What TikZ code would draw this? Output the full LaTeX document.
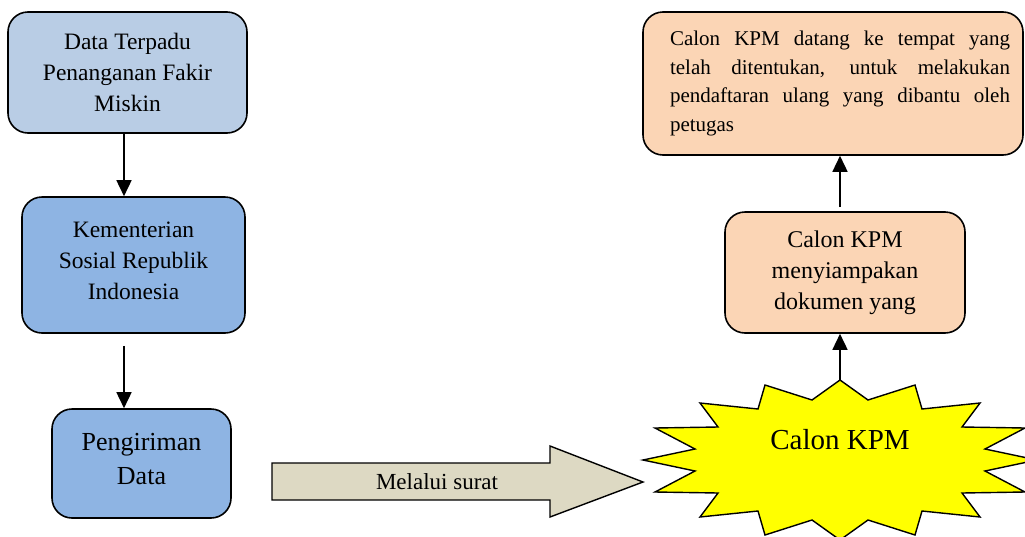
\documentclass[tikz,border=0pt]{standalone}
\usepackage{fontspec}
\setmainfont{Liberation Serif}
\usetikzlibrary{arrows.meta}
\definecolor{bluelight}{HTML}{B9CDE5}
\definecolor{bluemid}{HTML}{8EB4E3}
\definecolor{peach}{HTML}{FBD5B5}
\definecolor{khaki}{HTML}{DDD9C3}
\definecolor{staryellow}{HTML}{FFFF00}
\begin{document}
\begin{tikzpicture}[x=1pt,y=-1pt,
 box/.style={draw=black,line width=1.6pt,rounded corners=20pt,align=center,inner sep=0pt},
 arr/.style={line width=1.6pt,-{Triangle[length=16pt,width=15pt]}},
 shapeline/.style={draw=black,line width=1.4pt,line join=miter},
 ]
\useasboundingbox (0,0) rectangle (1025,536);
% left column
\node[box,fill=bluelight,minimum width=239pt,minimum height=121pt,font=\fontsize{23.5}{31}\selectfont] (dt) at (127.5,72.5) {Data Terpadu\\Penanganan Fakir\\Miskin};
\node[box,fill=bluemid,minimum width=223pt,minimum height=136pt,
  label={[align=center,font=\fontsize{23.5}{31}\selectfont,yshift=4pt]center:Kementerian\\Sosial Republik\\Indonesia}] (ks) at (133.5,265) {};
\node[box,fill=bluemid,minimum width=179pt,minimum height=109pt,
  label={[align=center,font=\fontsize{26}{34}\selectfont,yshift=4pt]center:Pengiriman\\Data}] (pd) at (141.5,463.5) {};
% right column
\node[box,fill=peach,minimum width=380pt,minimum height=143pt,font=\fontsize{21}{28.5}\selectfont] (cd) at (833,83.5) {\hspace*{14pt}\parbox[c]{340pt}{Calon KPM datang ke tempat yang\linebreak telah ditentukan, untuk melakukan\linebreak pendaftaran ulang yang dibantu oleh\linebreak petugas}};
\node[box,fill=peach,minimum width=240pt,minimum height=121pt,font=\fontsize{24}{31}\selectfont] (cm) at (845,272.5) {Calon KPM\\menyiampakan\\dokumen yang};
% starburst
\begin{scope}[shift={(840,460)}]
\draw[shapeline,fill=staryellow] (0,-80) -- (28,-60) -- (75,-75) -- (82,-51) -- (140,-57) -- (122,-33) -- (185,-32) -- (145,-11) -- (197,0) -- (145,11) -- (185,32) -- (122,33) -- (140,57) -- (82,51) -- (75,75) -- (28,60) -- (0,80) -- (-28,60) -- (-75,75) -- (-82,51) -- (-140,57) -- (-122,33) -- (-185,32) -- (-145,11) -- (-197,0) -- (-145,-11) -- (-185,-32) -- (-122,-33) -- (-140,-57) -- (-82,-51) -- (-75,-75) -- (-28,-60) -- cycle;
\end{scope}
\coordinate (startop) at (840,380);
\node[font=\fontsize{29}{34}\selectfont] (ck) at (840,440) {Calon KPM};
% block arrow
\draw[shapeline,fill=khaki] (272,463) -- (550,463) -- (550,446) -- (643,482) -- (550,517) -- (550,500) -- (272,500) -- cycle;
\node[font=\fontsize{23}{28}\selectfont] (ms) at (437,482) {Melalui surat};
% connectors
\draw[arr] ([xshift=-3.5pt]dt.south) -- ([xshift=-9.5pt]ks.north);
\draw[arr] ([xshift=-9.5pt,yshift=-12pt]ks.south) -- ([xshift=-17.5pt]pd.north);
\draw[arr] (startop) -- ([xshift=-5pt]cm.south);
\draw[arr] ([xshift=-5pt,yshift=4pt]cm.north) -- ([xshift=7pt]cd.south);
\end{tikzpicture}
\end{document}
